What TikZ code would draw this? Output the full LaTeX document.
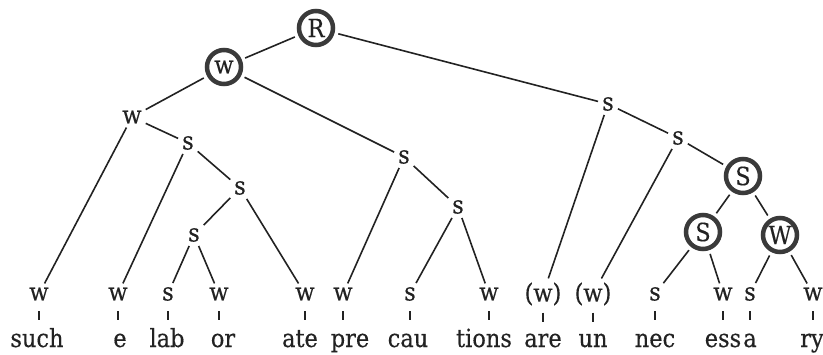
\documentclass[tikz,border=0pt]{standalone}
\usepackage{fontspec}
\setmainfont{DejaVu Serif Condensed}[FakeBold=0.35]
\newfontfamily\treefont{DejaVu Serif Condensed}[FakeBold=0.35]
\usepackage{xcolor}
\definecolor{ink}{HTML}{222222}
\definecolor{ring}{HTML}{3A3A3A}
\begin{document}
\begin{tikzpicture}[x=1pt,y=-1pt,
  every node/.style={font=\treefont\fontsize{25}{29}\selectfont, text=ink},
  lab/.style={inner sep=3pt},
  ringnode/.style={circle, draw=ring, line width=4.5pt, minimum size=34pt, inner sep=0pt, outer sep=5pt},
  edge/.style={draw=ink, line width=1.6pt, shorten <=1pt, shorten >=1pt},
  tick/.style={draw=ink, line width=1.3pt},
  word/.style={anchor=base, inner sep=0pt}]
\useasboundingbox (0,0) rectangle (823,354);

% ringed nodes
\node[ringnode] (R)  at (316,28)  {R};
\node[ringnode] (W)  at (224,67)  {w};
\node[ringnode] (C1) at (743,176) {S};
\node[ringnode] (C2) at (703,232) {S};
\node[ringnode] (C3) at (780,235) {W};

% inner nodes
\node[lab] (n1) at (132,117) {w};
\node[lab] (n2) at (188,143) {s};
\node[lab] (n3) at (240,188) {s};
\node[lab] (n4) at (194,235) {s};
\node[lab] (n5) at (404,157) {s};
\node[lab] (n6) at (458,207) {s};
\node[lab] (n7) at (608,104) {s};
\node[lab] (n8) at (678,138) {s};

% leaves and words
\foreach \n/\x/\t/\wx/\w in {
  1/39/w/37/such, 2/118/w/120/e, 3/168/s/167/lab, 4/219/w/223/or,
  5/305/w/300/ate, 6/343/w/350/pre, 7/410/s/408/cau, 8/489/w/484/tions,
  9/543/{(w)}/543/are, 10/593/{(w)}/593/un, 11/655/s/655/nec,
  12/723/w/723/ess, 13/750/s/750/a, 14/813/w/812/ry} {
  \node[lab] (l\n) at (\x,294) {\t};
  \node[word] (t\n) at (\wx,347) {\w};
  \draw[tick] ([yshift=-11pt]l\n.base) -- ([yshift=-20pt]l\n.base);
}

% connectors
\draw[edge] (R) -- (W);
\draw[edge] (R) -- (n7);
\draw[edge] (W) -- (n1);
\draw[edge] (W) -- (n5);
\draw[edge] (n1) -- (l1);
\draw[edge] (n1) -- (n2);
\draw[edge] (n2) -- (l2);
\draw[edge] (n2) -- (n3);
\draw[edge] (n3) -- (n4);
\draw[edge] (n3) -- (l5);
\draw[edge] (n4) -- (l3);
\draw[edge] (n4) -- (l4);
\draw[edge] (n5) -- (l6);
\draw[edge] (n5) -- (n6);
\draw[edge] (n6) -- (l7);
\draw[edge] (n6) -- (l8);
\draw[edge] (n7) -- (l9);
\draw[edge] (n7) -- (n8);
\draw[edge] (n8) -- (l10);
\draw[edge] (n8) -- (C1);
\draw[edge] (C1) -- (C2);
\draw[edge] (C1) -- (C3);
\draw[edge] (C2) -- (l11);
\draw[edge] (C2) -- (l12);
\draw[edge] (C3) -- (l13);
\draw[edge] (C3) -- (l14);
\end{tikzpicture}
\end{document}
